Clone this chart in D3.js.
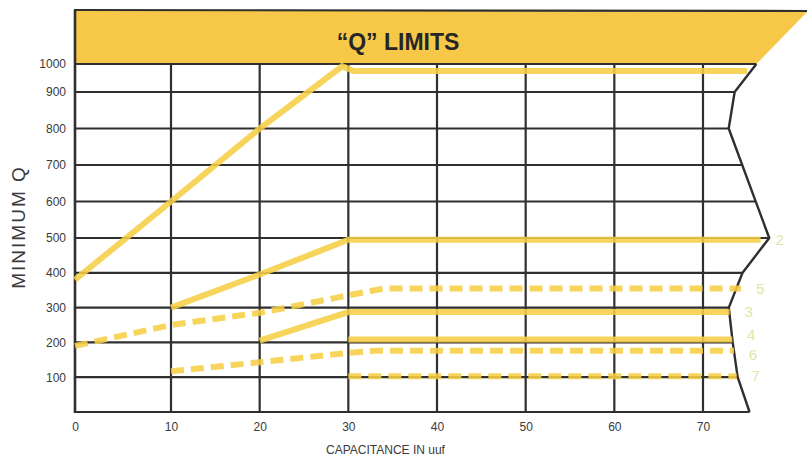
<!DOCTYPE html>
<html>
<head>
<meta charset="utf-8">
<script src="https://cdn.jsdelivr.net/npm/d3@7"></script>
<style>
  html, body { margin: 0; padding: 0; background: #ffffff; }
  svg { display: block; font-family: "Liberation Sans", Arial, Helvetica, sans-serif; }
</style>
</head>
<body>
<svg id="chart" width="807" height="458"></svg>
<script>
// ---- data ----
const title = "\u201CQ\u201D LIMITS";
const xTitle = "CAPACITANCE IN uuf";
const yTitle = "MINIMUM Q";
const xTicks = [0, 10, 20, 30, 40, 50, 60, 70];
const yTicks = [100, 200, 300, 400, 500, 600, 700, 800, 900, 1000];

// curve 1 (solid)
const c1Cap = [0, 10, 20, 29.3, 30.6, 75];
const c1Q   = [380, 600, 800, 992, 975, 975];
// curve 2 (solid)
const c2Cap = [10, 20, 30, 76.5];
const c2Q   = [300, 395, 495, 495];
// curve 3 (solid)
const c3Cap = [20, 30, 73];
const c3Q   = [205, 287, 287];
// curve 4 (solid)
const c4Cap = [30, 73.3];
const c4Q   = [208, 208];
// curve 5 (dashed)
const c5Cap = [0, 10, 20, 30, 34, 74.3];
const c5Q   = [190, 250, 285, 335, 355, 355];
// curve 6 (dashed)
const c6Cap = [10, 20, 30, 33, 73.5];
const c6Q   = [117, 143, 170, 176, 176];
// curve 7 (dashed)
const c7Cap = [30, 73.8];
const c7Q   = [103, 103];

const curveNames = ["1", "2", "3", "4", "5", "6", "7"];
const curveDashed = [false, false, false, false, true, true, true];
const curveLabelled = [false, true, true, true, true, true, true];

// torn right edge of the sheet (capacitance, Q)
const edgeCap = [75.25, 73.91, 73.35, 72.91, 74.46, 77.47, 72.9, 73.57, 76.02];
const edgeQ   = [0, 100, 200, 300, 400, 500, 800, 900, 1000];

// ---- build ----
const svg = d3.select("#chart");
const x = d3.scaleLinear().domain([0, 10, 70]).range([75, 171, 703]);
const y = d3.scaleLinear().domain([0, 500, 900, 1000]).range([412, 238, 92, 64]);
const edge = d3.scaleLinear().domain(edgeQ).range(edgeCap);

const gridColor = "#2f2f2f";
const lineColor = "#f6cf45";

// title band
const bandBottom = y(1000);
const bandTop = 10;
svg.append("path")
  .attr("d", `M${x(0)},${bandTop} L807,${bandTop + 2} L${x(edge(1000))},${bandBottom} L${x(0)},${bandBottom} Z`)
  .attr("fill", "#f7c847");
svg.append("line")
  .attr("x1", x(0) - 1).attr("x2", 807).attr("y1", bandTop).attr("y2", bandTop + 1)
  .attr("stroke", gridColor).attr("stroke-width", 2.2);
svg.append("text")
  .attr("x", 398).attr("y", 50)
  .attr("text-anchor", "middle")
  .attr("font-size", 23).attr("font-weight", "bold")
  .attr("fill", "#262626")
  .text(title);

// horizontal grid lines
svg.append("g").selectAll("line").data([0].concat(yTicks)).join("line")
  .attr("x1", x(0)).attr("x2", d => x(edge(d)))
  .attr("y1", d => y(d)).attr("y2", d => y(d))
  .attr("stroke", gridColor).attr("stroke-width", 2.2);

// vertical grid lines
svg.append("g").selectAll("line").data(xTicks).join("line")
  .attr("x1", d => x(d)).attr("x2", d => x(d))
  .attr("y1", d => d === 0 ? bandTop : y(1000)).attr("y2", y(0) + 1)
  .attr("stroke", gridColor).attr("stroke-width", d => d === 0 ? 2.6 : 2.2);

// torn edge outline
const edgePts = edgeQ.map((q, i) => [x(edgeCap[i]), y(q)]);
svg.append("path")
  .attr("d", d3.line()(edgePts))
  .attr("fill", "none").attr("stroke", gridColor).attr("stroke-width", 2.4)
  .attr("stroke-linejoin", "round");

// curves
const curves = [
  [c1Cap, c1Q], [c2Cap, c2Q], [c3Cap, c3Q], [c4Cap, c4Q],
  [c5Cap, c5Q], [c6Cap, c6Q], [c7Cap, c7Q]
].map(([cs, qs], i) => ({
  name: curveNames[i], dashed: curveDashed[i], labelled: curveLabelled[i],
  pts: cs.map((c, j) => [c, qs[j]])
}));

const line = d3.line().x(d => x(d[0])).y(d => y(d[1]));
svg.append("g").selectAll("path").data(curves).join("path")
  .attr("d", d => line(d.pts))
  .attr("fill", "none")
  .attr("stroke", lineColor)
  .attr("stroke-width", 6)
  .attr("stroke-opacity", 0.88)
  .attr("stroke-dasharray", d => d.dashed ? "13 7" : null);

// curve labels (faint), spread apart so they don't collide
const labelled = curves.filter(d => d.labelled).map(d => {
  const last = d.pts[d.pts.length - 1];
  return { name: d.name, px: x(last[0]) + 19, py: y(last[1]) };
}).sort((a, b) => a.py - b.py);
for (let it = 0; it < 20; it++) {
  for (let i = 1; i < labelled.length; i++) {
    const gap = labelled[i].py - labelled[i - 1].py;
    if (gap < 20) {
      const push = (20 - gap) / 2;
      labelled[i].py += push;
      labelled[i - 1].py -= push;
    }
  }
}
svg.append("g").selectAll("text").data(labelled).join("text")
  .attr("x", d => d.px)
  .attr("y", d => d.py)
  .attr("dy", "0.35em")
  .attr("text-anchor", "middle")
  .attr("font-size", 15)
  .attr("fill", "#e4e4a8")
  .text(d => d.name);

// axes labels
const yAxis = d3.axisLeft(y).tickValues(yTicks).tickFormat(d3.format("d")).tickSize(0).tickPadding(9);
const gy = svg.append("g").attr("transform", `translate(${x(0)},0)`).call(yAxis);
gy.select(".domain").remove();
gy.selectAll("text").attr("font-size", 12).attr("fill", "#3a3a3a")
  .attr("font-family", "Liberation Sans, Arial, sans-serif");

const xAxis = d3.axisBottom(x).tickValues(xTicks).tickFormat(d3.format("d")).tickSize(0).tickPadding(10);
const gx = svg.append("g").attr("transform", `translate(0,${y(0)})`).call(xAxis);
gx.select(".domain").remove();
gx.selectAll("text").attr("font-size", 12).attr("fill", "#3a3a3a")
  .attr("font-family", "Liberation Sans, Arial, sans-serif");

svg.append("text")
  .attr("x", 326).attr("y", 454)
  .attr("font-size", 12).attr("fill", "#3a3a3a")
  .text(xTitle);

svg.append("text")
  .attr("transform", `translate(25,227) rotate(-90)`)
  .attr("text-anchor", "middle")
  .attr("font-size", 19).attr("letter-spacing", 2)
  .attr("fill", "#3a3a3a")
  .text(yTitle);
</script>
</body>
</html>
